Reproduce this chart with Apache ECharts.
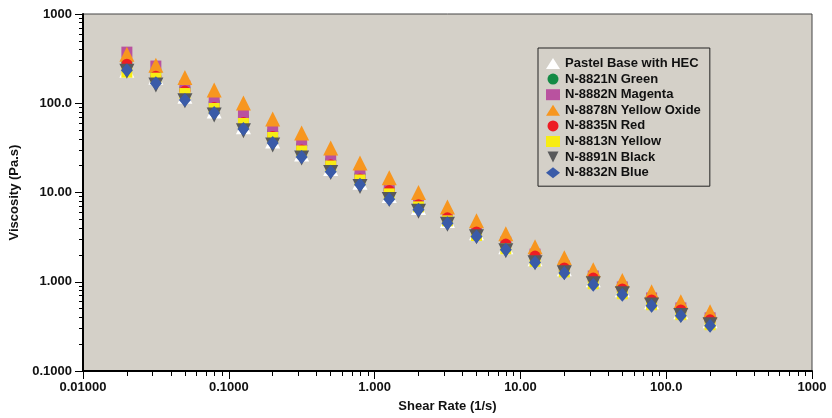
<!DOCTYPE html>
<html>
<head>
<meta charset="utf-8">
<script src="https://cdn.jsdelivr.net/npm/echarts@6/dist/echarts.min.js"></script>
<style>
  html, body { margin: 0; padding: 0; background: #fff; }
  #chart { width: 832px; height: 418px; }
</style>
</head>
<body>
<div id="chart"></div>
<script>
// shear rate (1/s), same for every sample
var shearRate = [0.02, 0.0316, 0.05, 0.0794, 0.126, 0.2, 0.316, 0.5, 0.794, 1.26, 2, 3.16, 5, 7.94, 12.6, 20, 31.6, 50, 79.4, 126, 200];

// viscosity (Pa.s) per sample
var pastelBase = [235, 196, 120, 81.8, 54.6, 37.8, 27.0, 18.6, 13.0, 9.28, 6.81, 4.87, 3.53, 2.46, 1.81, 1.40, 1.05, 0.814, 0.597, 0.462, 0.366];
var green = [289, 223, 148, 103, 70.1, 48.3, 33.6, 22.9, 15.9, 11.0, 7.65, 5.47, 3.82, 2.73, 2.00, 1.47, 1.11, 0.835, 0.629, 0.486, 0.376];
var magenta = [374, 261, 156, 108.6, 75.7, 51.5, 35.9, 24.4, 16.7, 11.35, 7.91, 5.45, 3.80, 2.78, 2.04, 1.50, 1.16, 0.874, 0.658, 0.509, 0.394];
var yellowOxide = [355, 267, 194, 140.5, 100.5, 66.6, 46.4, 31.5, 21.4, 14.6, 10.0, 6.90, 4.81, 3.44, 2.46, 1.86, 1.36, 1.03, 0.773, 0.597, 0.462];
var red = [274, 201, 137, 89.5, 60.8, 42.4, 30.0, 20.4, 14.2, 10.5, 7.30, 5.20, 3.62, 2.64, 1.94, 1.43, 1.10, 0.830, 0.625, 0.483, 0.374];
var yellow = [223, 191, 128.5, 87.3, 59.3, 41.3, 29.2, 19.8, 13.8, 9.65, 6.90, 4.81, 3.30, 2.34, 1.69, 1.29, 0.95, 0.734, 0.553, 0.428, 0.330];
var black = [229, 160, 107, 73.8, 49.3, 34.1, 24.4, 16.8, 11.7, 8.37, 6.15, 4.40, 3.19, 2.22, 1.63, 1.26, 0.95, 0.734, 0.55, 0.42, 0.33];
var blue = [235, 168, 108.6, 77.7, 51.5, 35.9, 25.0, 17.1, 12.2, 8.41, 6.39, 4.53, 3.21, 2.28, 1.64, 1.25, 0.926, 0.716, 0.539, 0.417, 0.322];

var xTickLabels = ['0.01000', '0.1000', '1.000', '10.00', '100.0', '1000'];
var yTickLabels = ['0.1000', '1.000', '10.00', '100.0', '1000'];
var xMajor = [0.01, 0.1, 1, 10, 100, 1000];
var yMajor = [0.1, 1, 10, 100, 1000];

function minorTicks(from, to) {
    var out = [];
    for (var p = from; p < to; p++) {
        for (var m = 2; m <= 9; m++) out.push(m * Math.pow(10, p));
    }
    return out;
}

function pair(ys) {
    return shearRate.map(function (x, i) { return [x, ys[i]]; });
}

var font = 'Liberation Sans, Arial, sans-serif';

var samples = [
    { name: 'Pastel Base with HEC', data: pastelBase, symbol: 'triangle', size: 15, color: '#ffffff' },
    { name: 'N-8821N Green', data: green, symbol: 'circle', size: 11, color: '#138a45' },
    { name: 'N-8882N Magenta', data: magenta, symbol: 'rect', size: 11, color: '#b9529f' },
    { name: 'N-8878N Yellow Oxide', data: yellowOxide, symbol: 'triangle', size: 15, color: '#f7961f' },
    { name: 'N-8835N Red', data: red, symbol: 'circle', size: 11, color: '#ed1c24' },
    { name: 'N-8813N Yellow', data: yellow, symbol: 'rect', size: 11, color: '#f7ec13' },
    { name: 'N-8891N Black', data: black, symbol: 'path://M0,0L10,0L5,10Z', size: 15, color: '#58595b' },
    { name: 'N-8832N Blue', data: blue, symbol: 'diamond', size: [12, 14], color: '#3a5ba8' }
];

var chart = echarts.init(document.getElementById('chart'));

var option = {
    animation: false,
    grid: {
        left: 83, right: 20, top: 14, bottom: 46,
        show: true,
        backgroundColor: '#d4d0c8',
        borderColor: '#444',
        borderWidth: 1
    },
    legend: {
        orient: 'vertical',
        left: 538,
        top: 48,
        padding: [9, 9, 7, 8],
        itemWidth: 14,
        itemHeight: 11,
        itemGap: 2.6,
        backgroundColor: '#d4d0c8',
        borderColor: '#222',
        borderWidth: 1,
        borderRadius: 0,
        textStyle: { fontFamily: font, fontWeight: 'bold', fontSize: 13, lineHeight: 12, color: '#111' },
        data: samples.map(function (s) { return s.name; })
    },
    xAxis: [
        {
            type: 'log', logBase: 10, min: 0.01, max: 1000,
            name: 'Shear Rate (1/s)', nameLocation: 'middle', nameGap: 29,
            nameTextStyle: { fontFamily: font, fontWeight: 'bold', fontSize: 13, color: '#111' },
            axisLine: { lineStyle: { color: '#000', width: 2 } },
            axisTick: { show: true, length: 8, inside: false, customValues: xMajor, lineStyle: { color: '#000', width: 1 } },
            axisLabel: {
                margin: 10, fontFamily: font, fontWeight: 'bold', fontSize: 13, color: '#111',
                customValues: xMajor,
                formatter: function (v) { return xTickLabels[Math.round(Math.log10(v)) + 2]; }
            },
            splitLine: { show: false }
        },
        {
            type: 'log', logBase: 10, min: 0.01, max: 1000, position: 'bottom',
            axisLine: { show: false },
            axisTick: { show: true, length: 5, customValues: minorTicks(-2, 3), lineStyle: { color: '#000', width: 1 } },
            axisLabel: { show: false },
            splitLine: { show: false }
        }
    ],
    yAxis: [
        {
            type: 'log', logBase: 10, min: 0.1, max: 1000,
            name: 'Viscosity (Pa.s)', nameLocation: 'middle', nameGap: 55,
            nameTextStyle: { fontFamily: font, fontWeight: 'bold', fontSize: 13, color: '#111' },
            axisLine: { show: true, lineStyle: { color: '#000', width: 2 } },
            axisTick: { show: true, length: 8, customValues: yMajor, lineStyle: { color: '#000', width: 1 } },
            axisLabel: {
                margin: 11, fontFamily: font, fontWeight: 'bold', fontSize: 13, color: '#111',
                customValues: yMajor,
                formatter: function (v) { return yTickLabels[Math.round(Math.log10(v)) + 1]; }
            },
            splitLine: { show: false }
        },
        {
            type: 'log', logBase: 10, min: 0.1, max: 1000, position: 'left',
            axisLine: { show: false },
            axisTick: { show: true, length: 4, customValues: minorTicks(-1, 3), lineStyle: { color: '#000', width: 1 } },
            axisLabel: { show: false },
            splitLine: { show: false }
        }
    ],
    series: samples.map(function (s) {
        return {
            name: s.name,
            type: 'scatter',
            xAxisIndex: 0,
            yAxisIndex: 0,
            symbol: s.symbol,
            symbolSize: s.size,
            itemStyle: { color: s.color, opacity: 1 },
            data: pair(s.data)
        };
    })
};

chart.setOption(option);
</script>
</body>
</html>
